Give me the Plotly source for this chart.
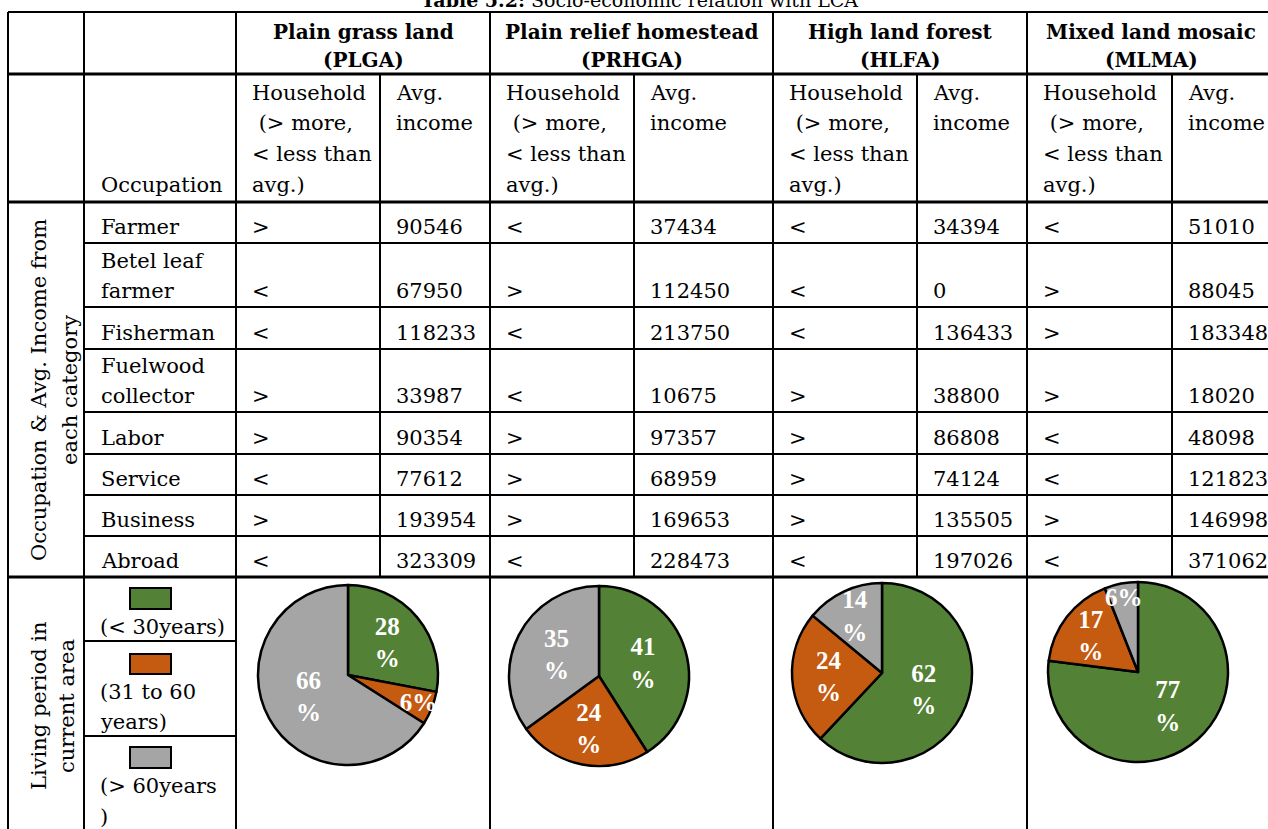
import plotly.graph_objects as go

# ---------------- data ----------------
title_bold = "Table 5.2:"
title_rest = " Socio-economic relation with LCA"

region_names = ["Plain grass land", "Plain relief homestead", "High land forest", "Mixed land mosaic"]
region_codes = ["(PLGA)", "(PRHGA)", "(HLFA)", "(MLMA)"]

occupations = ["Farmer", "Betel leaf farmer", "Fisherman", "Fuelwood collector",
               "Labor", "Service", "Business", "Abroad"]

sign_plga = [">", "<", "<", ">", ">", "<", ">", "<"]
income_plga = [90546, 67950, 118233, 33987, 90354, 77612, 193954, 323309]
sign_prhga = ["<", ">", "<", "<", ">", ">", ">", "<"]
income_prhga = [37434, 112450, 213750, 10675, 97357, 68959, 169653, 228473]
sign_hlfa = ["<", "<", "<", ">", ">", ">", ">", "<"]
income_hlfa = [34394, 0, 136433, 38800, 86808, 74124, 135505, 197026]
sign_mlma = ["<", ">", ">", ">", "<", "<", ">", "<"]
income_mlma = [51010, 88045, 183348, 18020, 48098, 121823, 146998, 371062]

period_labels = ["(< 30years)", "(31 to 60 years)", "(> 60years)"]
period_plga = [28, 6, 66]
period_prhga = [41, 24, 35]
period_hlfa = [62, 24, 14]
period_mlma = [77, 17, 6]

# ---------------- styling / layout ----------------
W, H = 1268, 829
FONT = "DejaVu Serif"
FS = 21
BLACK = "#000000"
slice_colors = ["#538135", "#C55A11", "#A5A5A5"]

signs = [sign_plga, sign_prhga, sign_hlfa, sign_mlma]
incomes = [income_plga, income_prhga, income_hlfa, income_mlma]
periods = [period_plga, period_prhga, period_hlfa, period_mlma]

# column boundaries (px)
x_left, x_lab, x_occ = 8, 84, 236
region_x = [(236, 380, 490), (490, 634, 773), (773, 917, 1027), (1027, 1172, 1275)]
y_top, y_head, y_sub = 12, 74, 202
row_bottoms = [243, 307, 349, 412, 454, 495, 536, 577]
y_tab = 577
legend_seps = [641, 736]

fig = go.Figure()
shapes = []
ann = []


def hline(y, x0, x1, w=2):
    shapes.append(dict(type="line", xref="x", yref="y", x0=x0, x1=x1, y0=y, y1=y,
                       line=dict(color=BLACK, width=w)))


def vline(x, y0, y1, w=2):
    shapes.append(dict(type="line", xref="x", yref="y", x0=x, x1=x, y0=y0, y1=y1,
                       line=dict(color=BLACK, width=w)))


def txt(x, y, s, xanchor="left", size=FS, bold=False, angle=0, color=BLACK, family=FONT,
        yanchor="middle"):
    if bold:
        s = "<b>" + s + "</b>"
    ann.append(dict(x=x, y=y, xref="x", yref="y", text=s, showarrow=False,
                    xanchor=xanchor, yanchor=yanchor, textangle=angle,
                    font=dict(family=family, size=size, color=color)))


# grid lines
hline(y_top, x_left, W + 5, 2)
hline(y_head, x_left, W + 5, 3)
hline(y_sub, x_left, W + 5, 3)
for yb in row_bottoms[:-1]:
    hline(yb, x_lab, W + 5, 2)
hline(y_tab, x_left, W + 5, 3)
for ys in legend_seps:
    hline(ys, x_lab, x_occ, 2)

for xv in [x_left, x_lab, x_occ]:
    vline(xv, y_top, H + 5)
for (xa, xm, xb) in region_x:
    vline(xa, y_top, H + 5)
    vline(xm, y_head, y_tab)

# title (partly cut at top, as in the reference)
txt(639, 0, "<b>" + title_bold + "</b>" + title_rest, xanchor="center", size=19)

# header row
for (xa, xm, xb), nm, cd in zip(region_x, region_names, region_codes):
    cx = (xa + xb) / 2
    txt(cx, 32, nm, xanchor="center", size=20, bold=True)
    txt(cx, 60, cd, xanchor="center", size=20, bold=True)

# sub-header row
sub_lines = ["Household", "\u00a0(> more,", "< less than", "avg.)"]
sub_y = [93, 123, 154, 185]
for (xa, xm, xb) in region_x:
    for s, yy in zip(sub_lines, sub_y):
        txt(xa + 14, yy, s)
    txt(xm + 14, sub_y[0], "Avg.")
    txt(xm + 14, sub_y[1], "income")
txt(x_lab + 15, 185, "Occupation")

# data rows
for i, occ in enumerate(occupations):
    yb = row_bottoms[i] - 16
    words = occ.split(" ")
    if occ in ("Betel leaf farmer", "Fuelwood collector"):
        first = " ".join(words[:-1])
        txt(x_lab + 15, yb - 30, first)
        txt(x_lab + 15, yb, words[-1])
    else:
        txt(x_lab + 15, yb, occ)
    for r, (xa, xm, xb) in enumerate(region_x):
        txt(xa + 14, yb, signs[r][i])
        txt(xm + 14, yb, str(incomes[r][i]))

# rotated side labels
txt(39, 390, "Occupation & Avg. Income from", xanchor="center", angle=-90)
txt(70, 390, "each category", xanchor="center", angle=-90)
txt(39, 706, "Living period in", xanchor="center", angle=-90)
txt(67, 706, "current area", xanchor="center", angle=-90)

# legend keys
key_y = [(588, 609), (654, 674), (747, 768)]
for c, (ya, yb2) in zip(slice_colors, key_y):
    shapes.append(dict(type="rect", xref="x", yref="y", x0=130, x1=171, y0=ya, y1=yb2,
                       fillcolor=c, line=dict(color=BLACK, width=2)))
txt(98, 627, period_labels[0])
p2 = period_labels[1].split(" ")
txt(98, 692, " ".join(p2[:-1]))
txt(98, 722, p2[-1])
txt(98, 786, period_labels[2][:-1])
txt(98, 817, period_labels[2][-1])

# pies
centers = [(348, 675), (599, 676), (882, 673), (1138, 672)]
R = 90
for vals, (cx, cy) in zip(periods, centers):
    texts = [f"{v}<br>%" if v >= 10 else f"{v}%" for v in vals]
    fig.add_trace(go.Pie(
        values=vals, labels=period_labels, text=texts, textinfo="text",
        sort=False, direction="clockwise", rotation=0,
        marker=dict(colors=slice_colors, line=dict(color=BLACK, width=2.5)),
        textposition="inside", insidetextorientation="horizontal",
        textfont=dict(family="Liberation Serif", size=25, color="white", weight="bold"),
        domain=dict(x=[(cx - R) / W, (cx + R) / W], y=[1 - (cy + R) / H, 1 - (cy - R) / H]),
        showlegend=False, hoverinfo="label+value",
    ))

fig.update_layout(
    width=W, height=H, margin=dict(l=0, r=0, t=0, b=0),
    paper_bgcolor="white", plot_bgcolor="white",
    xaxis=dict(range=[0, W], visible=False, fixedrange=True),
    yaxis=dict(range=[H, 0], visible=False, fixedrange=True),
    shapes=shapes, annotations=ann, showlegend=False,
    uniformtext=dict(minsize=25, mode="show"),
)
fig.write_html("out.html", config={"displayModeBar": False},
               post_script="document.body.style.margin='0';document.body.style.overflow='hidden';")
